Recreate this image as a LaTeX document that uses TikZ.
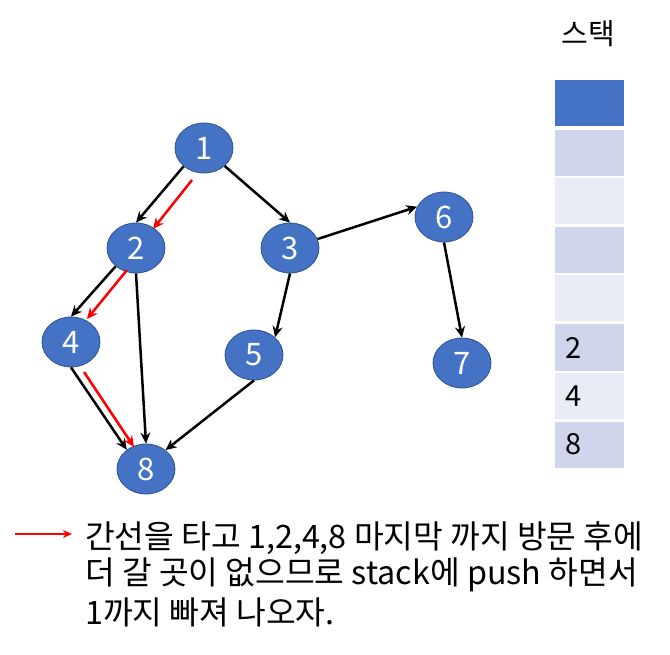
\documentclass[tikz,border=0pt]{standalone}
\usepackage{fontspec}
\setmainfont{Noto Sans CJK KR}
\usetikzlibrary{shapes.geometric,arrows.meta}
\definecolor{nodeblue}{HTML}{4472C4}
\definecolor{nodeedge}{HTML}{2F528F}
\definecolor{stackdark}{HTML}{CFD5EA}
\definecolor{stacklight}{HTML}{E9EBF5}
\tikzset{
  vtx/.style={ellipse, fill=nodeblue, draw=nodeedge, line width=0.8pt, minimum width=58pt, minimum height=50pt, inner sep=0pt, text=white, font=\fontsize{31}{33}\selectfont},
  edge/.style={-{Stealth[length=11pt,width=10pt]}, line width=2.5pt, black},
  redge/.style={-{Stealth[length=11pt,width=10pt]}, line width=2.5pt, red},
  cell/.style={rectangle, minimum width=69pt, minimum height=46pt, inner sep=0pt, draw=none},
  celltxt/.style={anchor=west, font=\fontsize{29}{31}\selectfont, text=black, inner sep=0pt},
  txt/.style={anchor=west, font=\fontsize{32.3}{34}\selectfont, inner sep=0pt}
}
\begin{document}
\begin{tikzpicture}[x=1pt,y=-1pt]
\useasboundingbox (0,0) rectangle (670,655);
% vertices
\node[vtx] (n1) at (204,148) {1};
\node[vtx] (n2) at (136,248) {2};
\node[vtx] (n3) at (290,248) {3};
\node[vtx] (n4) at (71,342) {4};
\node[vtx] (n5) at (254,355) {5};
\node[vtx] (n6) at (444,217) {6};
\node[vtx] (n7) at (462,363) {7};
\node[vtx] (n8) at (146,469) {8};
% edges
\draw[edge] (n1.222) -- (n2.north);
\draw[edge] (n1.319) -- (n3.north);
\draw[edge] (n2.222) -- (n4.north);
\draw[edge] (n2.south) -- (n8.north);
\draw[edge] (n4.south) -- (n8.135);
\draw[edge] (n5.south) -- (n8.44);
\draw[edge] (n3.south) -- (n5.40);
\draw[edge] (n3.18) -- (n6.159);
\draw[edge] (n6.south) -- (n7.north);
% red traversal arrows
\coordinate (r1a) at (192,180);
\coordinate (r1b) at (153,229);
\coordinate (r2a) at (127,270);
\coordinate (r2b) at (87,319);
\coordinate (r3a) at (84,372);
\coordinate (r3b) at (134,447);
\draw[redge] (r1a) -- (r1b);
\draw[redge] (r2a) -- (r2b);
\draw[redge] (r3a) -- (r3b);
% stack
\node[font=\fontsize{29}{31}\selectfont] (stitle) at (588,34) {스택};
\node[cell, fill=nodeblue] (s1) at (589.5,103.5) {};
\node[cell, fill=stackdark] (s2) at (589.5,153.5) {};
\node[cell, fill=stacklight] (s3) at (589.5,201.5) {};
\node[cell, fill=stackdark] (s4) at (589.5,250) {};
\node[cell, fill=stacklight] (s5) at (589.5,298.5) {};
\node[cell, fill=stackdark] (s6) at (589.5,347.5) {};
\node[cell, fill=stacklight] (s7) at (589.5,396) {};
\node[cell, fill=stackdark] (s8) at (589.5,444.5) {};
\node[celltxt] (t6) at (565,347.5) {2};
\node[celltxt] (t7) at (565,396) {4};
\node[celltxt] (t8) at (565,444.5) {8};
% legend
\coordinate (la) at (15,534);
\coordinate (lb) at (72,534);
\node[txt] (l1) at (85,538) {간선을 타고 1,2,4,8 마지막 까지 방문 후에};
\node[txt] (l2) at (85,575) {더 갈 곳이 없으므로 stack에 push 하면서};
\node[txt] (l3) at (85,612) {1까지 빠져 나오자.};
\draw[-{Stealth[length=9pt,width=8pt]}, line width=2pt, red] (la) -- (lb);
\end{tikzpicture}
\end{document}
